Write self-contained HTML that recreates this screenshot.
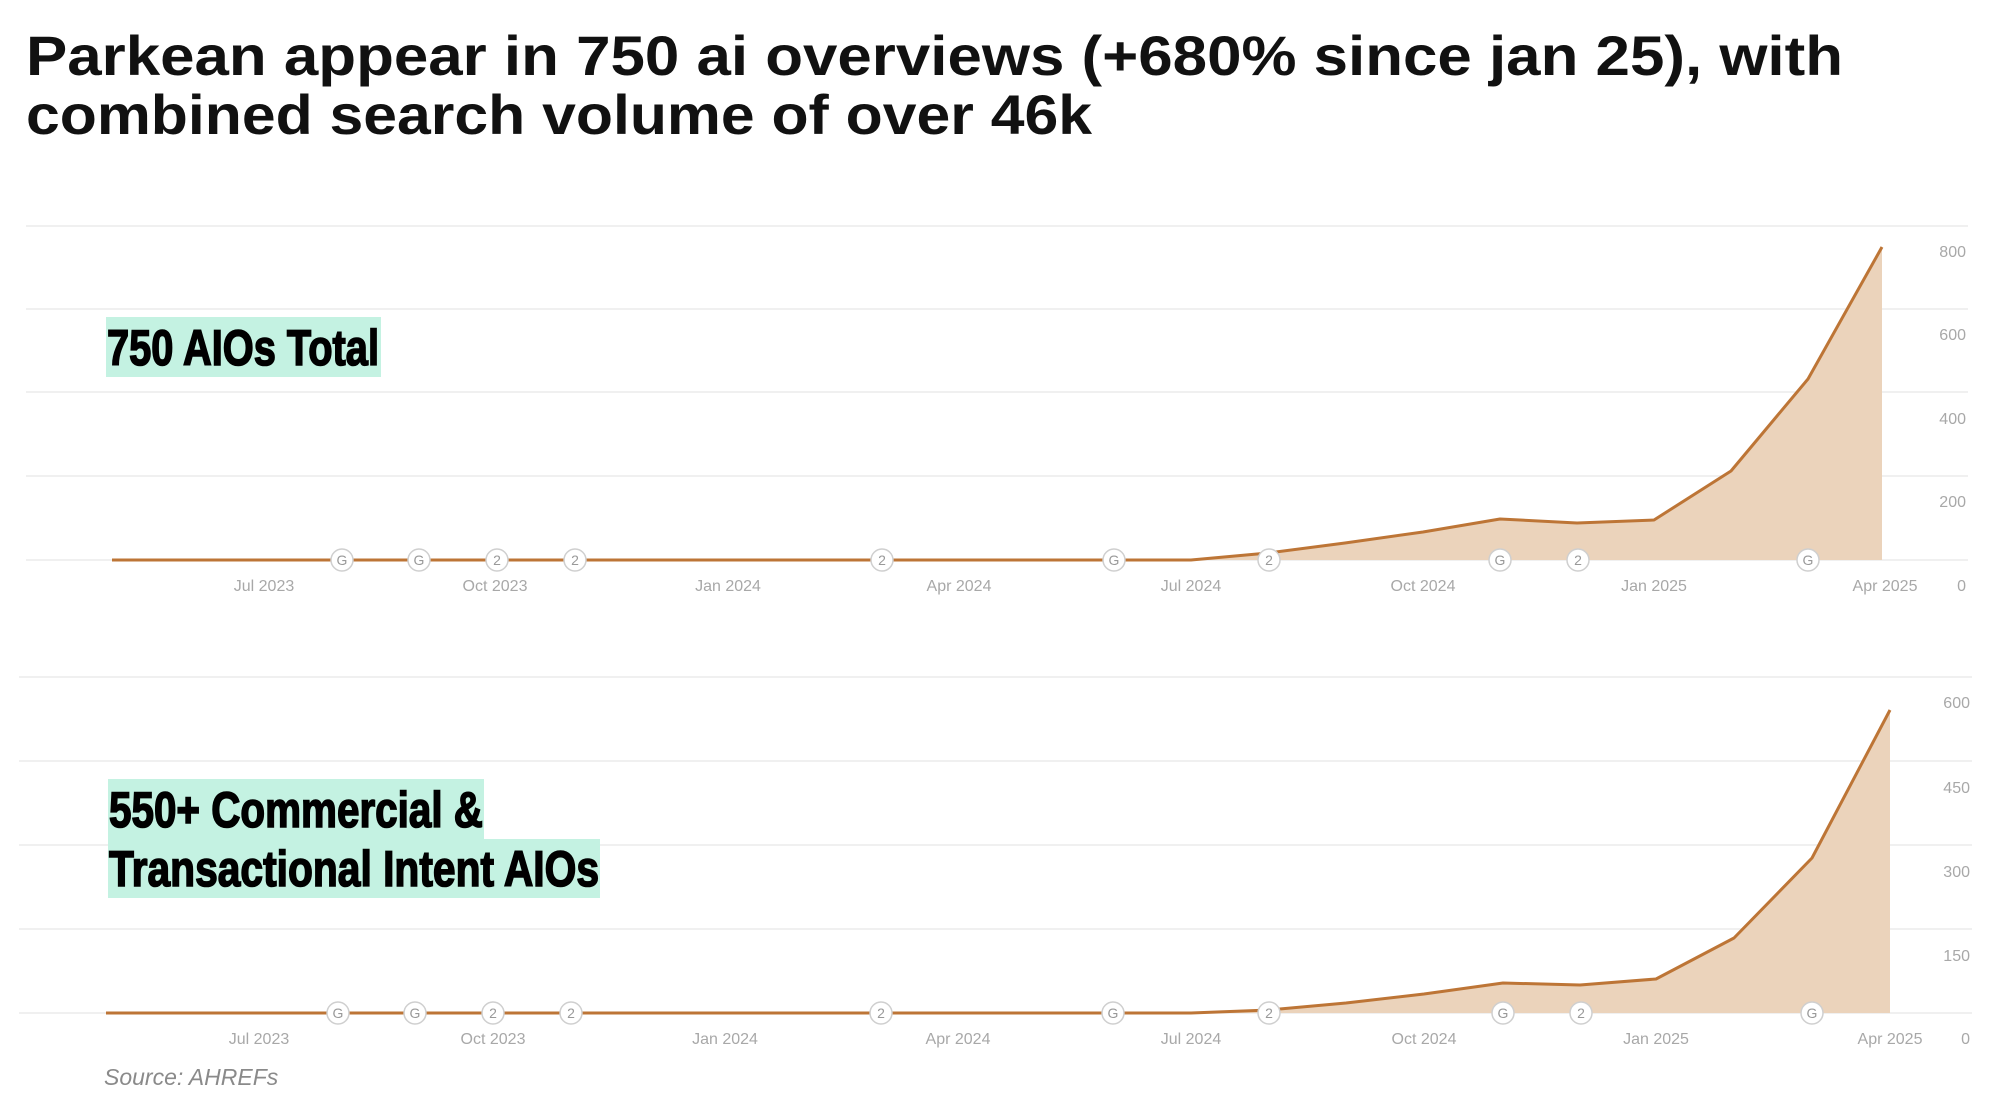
<!DOCTYPE html>
<html><head><meta charset="utf-8"><style>
html,body{margin:0;padding:0;background:#fff;}
svg{display:block;}
.t{font-family:"Liberation Sans",sans-serif;font-weight:bold;fill:#111;}
.ax{font-family:"Liberation Sans",sans-serif;font-size:16px;fill:#a8a8a8;}
.lab{font-family:"Liberation Sans Narrow","Liberation Sans",sans-serif;font-weight:bold;fill:#000;stroke:#000;stroke-width:1.6;}
.mk circle{fill:#fff;stroke:#cfcfcf;stroke-width:1.5;}
.mk text{font-family:"Liberation Sans",sans-serif;font-size:14px;fill:#999;text-anchor:middle;}
</style></head><body>
<svg width="1999" height="1111" viewBox="0 0 1999 1111">
<text class="t" x="26" y="75" font-size="56" textLength="1817" lengthAdjust="spacingAndGlyphs">Parkean appear in 750 ai overviews (+680% since jan 25), with</text>
<text class="t" x="26" y="134" font-size="56" textLength="1066" lengthAdjust="spacingAndGlyphs">combined search volume of over 46k</text>

<!-- Chart 1 -->
<g stroke="#ececec" stroke-width="1.5">
<line x1="26" x2="1968" y1="226" y2="226"/><line x1="26" x2="1968" y1="309" y2="309"/>
<line x1="26" x2="1968" y1="392" y2="392"/><line x1="26" x2="1968" y1="476" y2="476"/>
<line x1="26" x2="1968" y1="560" y2="560"/>
</g>
<g class="ax" text-anchor="end">
<text x="1966" y="257">800</text><text x="1966" y="340">600</text><text x="1966" y="424">400</text><text x="1966" y="507">200</text><text x="1966" y="591">0</text>
</g>
<g class="ax" text-anchor="middle">
<text x="264" y="591">Jul 2023</text><text x="495" y="591">Oct 2023</text><text x="728" y="591">Jan 2024</text><text x="959" y="591">Apr 2024</text>
<text x="1191" y="591">Jul 2024</text><text x="1423" y="591">Oct 2024</text><text x="1654" y="591">Jan 2025</text><text x="1885" y="591">Apr 2025</text>
</g>
<path d="M112,560 L1191,560 L1268,553 L1345,543 L1423,532 L1500,519 L1577,523 L1654,520 L1731,471 L1808,379 L1882,247 L1882,560 Z" fill="#ebd3bb"/>
<polyline points="112,560 1191,560 1268,553 1345,543 1423,532 1500,519 1577,523 1654,520 1731,471 1808,379 1882,247" fill="none" stroke="#bd7536" stroke-width="3" stroke-linejoin="round"/>
<g class="mk">
<circle cx="342" cy="560" r="11"/><text x="342" y="565">G</text>
<circle cx="419" cy="560" r="11"/><text x="419" y="565">G</text>
<circle cx="497" cy="560" r="11"/><text x="497" y="565">2</text>
<circle cx="575" cy="560" r="11"/><text x="575" y="565">2</text>
<circle cx="882" cy="560" r="11"/><text x="882" y="565">2</text>
<circle cx="1114" cy="560" r="11"/><text x="1114" y="565">G</text>
<circle cx="1269" cy="560" r="11"/><text x="1269" y="565">2</text>
<circle cx="1500" cy="560" r="11"/><text x="1500" y="565">G</text>
<circle cx="1578" cy="560" r="11"/><text x="1578" y="565">2</text>
<circle cx="1808" cy="560" r="11"/><text x="1808" y="565">G</text>
</g>
<rect x="106" y="317" width="275" height="60" fill="#c4f2e2"/>
<text class="lab" x="107" y="365" font-size="50" textLength="272" lengthAdjust="spacingAndGlyphs">750 AIOs Total</text>

<!-- Chart 2 -->
<g stroke="#ececec" stroke-width="1.5">
<line x1="19" x2="1972" y1="677" y2="677"/><line x1="19" x2="1972" y1="761" y2="761"/>
<line x1="19" x2="1972" y1="845" y2="845"/><line x1="19" x2="1972" y1="929" y2="929"/>
<line x1="19" x2="1972" y1="1013" y2="1013"/>
</g>
<g class="ax" text-anchor="end">
<text x="1970" y="708">600</text><text x="1970" y="793">450</text><text x="1970" y="877">300</text><text x="1970" y="961">150</text><text x="1970" y="1044">0</text>
</g>
<g class="ax" text-anchor="middle">
<text x="259" y="1044">Jul 2023</text><text x="493" y="1044">Oct 2023</text><text x="725" y="1044">Jan 2024</text><text x="958" y="1044">Apr 2024</text>
<text x="1191" y="1044">Jul 2024</text><text x="1424" y="1044">Oct 2024</text><text x="1656" y="1044">Jan 2025</text><text x="1890" y="1044">Apr 2025</text>
</g>
<path d="M106,1013 L1191,1013 L1269,1010 L1346,1003 L1424,994 L1503,983 L1580,985 L1656,979 L1734,938 L1812,858 L1890,710 L1890,1013 Z" fill="#ebd3bb"/>
<polyline points="106,1013 1191,1013 1269,1010 1346,1003 1424,994 1503,983 1580,985 1656,979 1734,938 1812,858 1890,710" fill="none" stroke="#bd7536" stroke-width="3" stroke-linejoin="round"/>
<g class="mk">
<circle cx="338" cy="1013" r="11"/><text x="338" y="1018">G</text>
<circle cx="415" cy="1013" r="11"/><text x="415" y="1018">G</text>
<circle cx="493" cy="1013" r="11"/><text x="493" y="1018">2</text>
<circle cx="571" cy="1013" r="11"/><text x="571" y="1018">2</text>
<circle cx="881" cy="1013" r="11"/><text x="881" y="1018">2</text>
<circle cx="1113" cy="1013" r="11"/><text x="1113" y="1018">G</text>
<circle cx="1269" cy="1013" r="11"/><text x="1269" y="1018">2</text>
<circle cx="1503" cy="1013" r="11"/><text x="1503" y="1018">G</text>
<circle cx="1581" cy="1013" r="11"/><text x="1581" y="1018">2</text>
<circle cx="1812" cy="1013" r="11"/><text x="1812" y="1018">G</text>
</g>
<rect x="108" y="779" width="376" height="60" fill="#c4f2e2"/>
<rect x="108" y="839" width="492" height="59" fill="#c4f2e2"/>
<text class="lab" x="109" y="827" font-size="50" textLength="374" lengthAdjust="spacingAndGlyphs">550+ Commercial &amp;</text>
<text class="lab" x="109" y="886" font-size="50" textLength="490" lengthAdjust="spacingAndGlyphs">Transactional Intent AIOs</text>

<text x="104" y="1085" font-family="Liberation Sans, sans-serif" font-style="italic" font-size="23" fill="#8a8a8a">Source: AHREFs</text>
</svg>
</body></html>
